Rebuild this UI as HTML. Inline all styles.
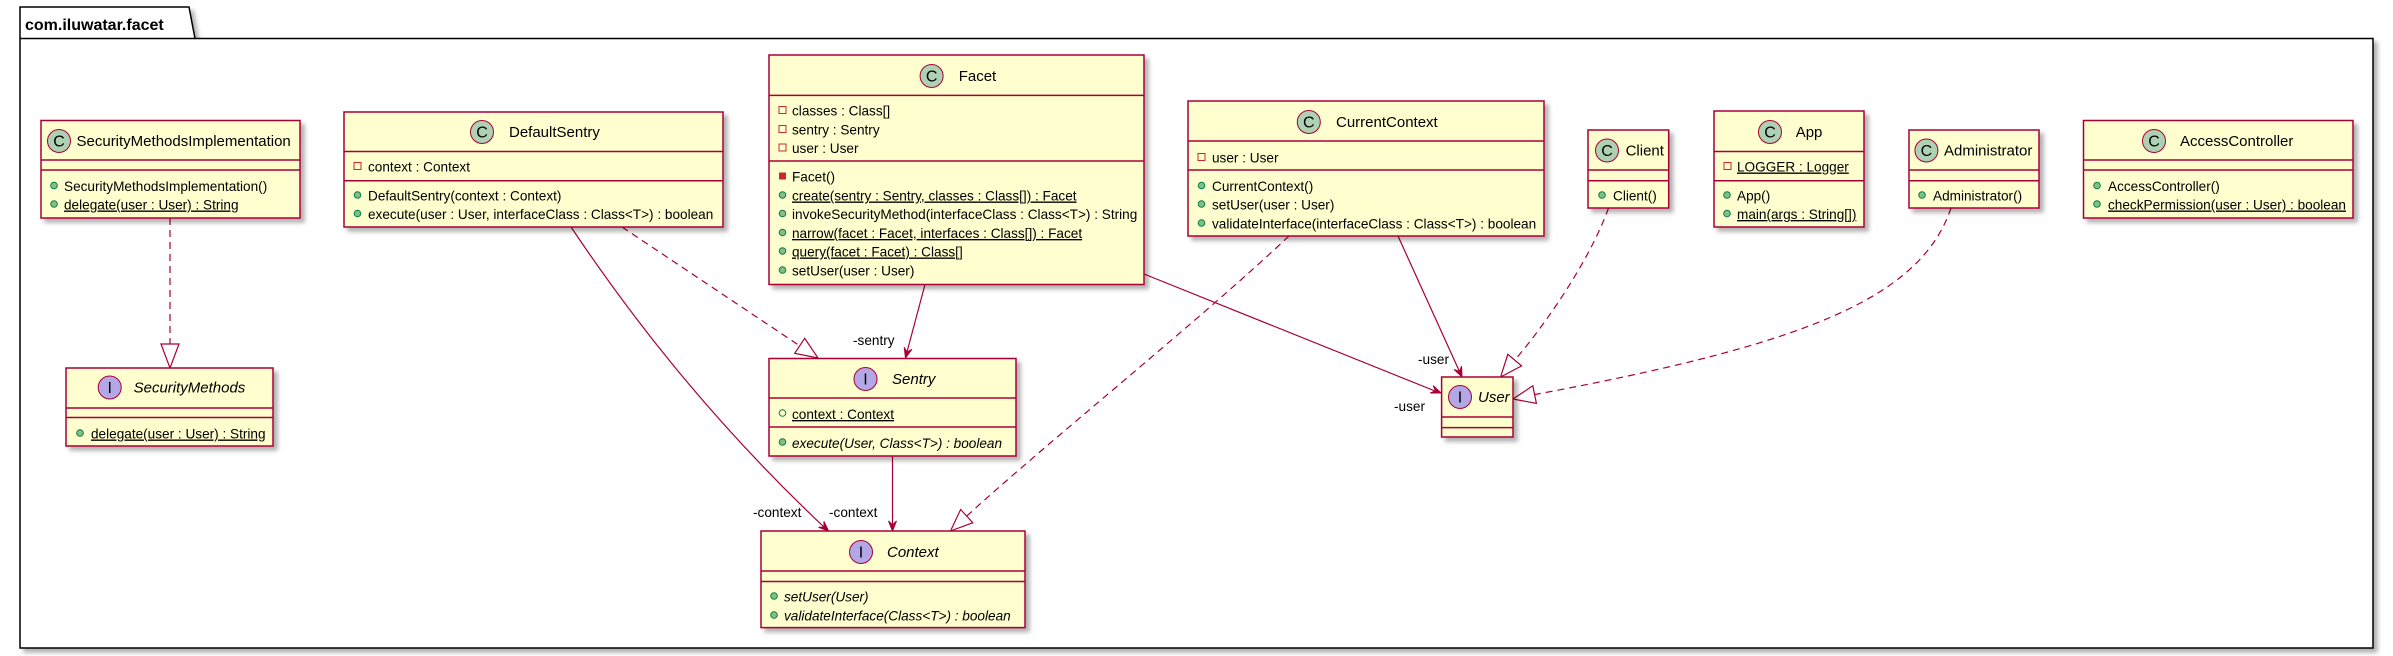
<!DOCTYPE html>
<html><head><meta charset="utf-8"><style>
html,body{margin:0;padding:0;background:#fff;}
svg{display:block;}
text{font-family:"Liberation Sans",sans-serif;font-size:13.6px;fill:#000;}
.n{font-size:15px;}
.i{font-style:italic;}
.u{text-decoration:underline;}
.box{fill:#FEFECE;stroke:#A80036;stroke-width:1.5;filter:url(#sh);}
.ln{stroke:#A80036;stroke-width:1.5;}
.c{fill:none;stroke:#A80036;stroke-width:1.2;}
.d{stroke-dasharray:7,5;}
.pub{fill:#84BE84;stroke:#038048;stroke-width:1;}
.pri{fill:none;stroke:#C82930;stroke-width:1;}
.tri{fill:#fff;stroke:#A80036;stroke-width:1.2;}
.arr{fill:#A80036;stroke:#A80036;stroke-width:1;}
.cc{fill:#ADD1B2;stroke:#A80036;stroke-width:1;}
.ic{fill:#B4A7E5;stroke:#A80036;stroke-width:1;}
.g{font-size:16px;}
</style></head><body>
<svg width="2393" height="656" viewBox="0 0 2393 656" xmlns="http://www.w3.org/2000/svg">
<defs><filter id="sh" x="-10%" y="-10%" width="130%" height="130%"><feDropShadow dx="4" dy="4" stdDeviation="2" flood-color="#000" flood-opacity="0.3"/></filter></defs>
<path d="M20,38.5 L20,7 L189,7 L195,38.5 L2373,38.5 L2373,648 L20,648 Z" fill="#fff" stroke="#000" stroke-width="1.5" filter="url(#sh)"/>
<line x1="20" y1="38.5" x2="195" y2="38.5" stroke="#000" stroke-width="1.5"/>
<text x="25" y="30" style="font-weight:bold;font-size:16px">com.iluwatar.facet</text>

<line class="c d" x1="170" y1="218" x2="170" y2="344"/>
<polygon class="tri" points="170,368 161,344 179,344"/>
<line class="c d" x1="622" y1="227" x2="800" y2="346"/>
<polygon class="tri" points="818,358 794.7,353.3 804.7,338.3"/>
<path class="c" d="M571 227 C620 300, 700 410, 824 527"/>
<polygon class="arr" points="828.6,531 818.5,527.3 824.1,527 823.9,521.3"/>
<line class="c" x1="925" y1="284.5" x2="907" y2="352"/>
<polygon class="arr" points="905.5,358 911.9,349.3 907,352.2 904.2,347.3"/>
<line class="c" x1="1144" y1="274" x2="1435" y2="391"/>
<polygon class="arr" points="1441,393 1430.2,393 1435.4,390.8 1433.2,385.6"/>
<line class="c" x1="1398" y1="236" x2="1459.5" y2="371.5"/>
<polygon class="arr" points="1462,377 1454.2,369.5 1459.5,371.5 1461.5,366.2"/>
<path class="c d" d="M1289 236 C1200 320, 1050 440, 966.7 516.1"/>
<polygon class="tri" points="950.5,531 972.8,522.7 960.6,509.5"/>
<line class="c" x1="892.5" y1="456" x2="892.5" y2="525"/>
<polygon class="arr" points="892.5,531 888.5,521 892.5,525 896.5,521"/>
<path class="c d" d="M1608.5 208 C1590 260, 1545 325, 1514.7 360.1"/>
<polygon class="tri" points="1500.6,377 1521.6,365.9 1507.8,354.3"/>
<path class="c d" d="M1951 208 C1920 300, 1800 345, 1534.6 394.6"/>
<polygon class="tri" points="1513,399 1536.4,403.4 1532.8,385.8"/>
<text x="853" y="345">-sentry</text>
<text x="1418" y="364">-user</text>
<text x="1394" y="411">-user</text>
<text x="753" y="517">-context</text>
<text x="829" y="517">-context</text>

<rect class="box" x="41" y="120.5" width="259" height="97.5"/>
<line class="ln" x1="41" y1="160" x2="300" y2="160"/><line class="ln" x1="41" y1="170" x2="300" y2="170"/>
<ellipse class="cc" cx="59" cy="141" rx="11.5" ry="11.5"/><text x="59" y="146.5" text-anchor="middle" class="g">C</text>
<text class="n" x="76.5" y="146">SecurityMethodsImplementation</text>
<circle class="pub" cx="54" cy="185.5" r="3.3"/><text x="64" y="191">SecurityMethodsImplementation()</text>
<circle class="pub" cx="54" cy="204" r="3.3"/><text class="u" x="64" y="209.5">delegate(user : User) : String</text>

<rect class="box" x="344" y="112" width="379" height="115"/>
<line class="ln" x1="344" y1="151.5" x2="723" y2="151.5"/><line class="ln" x1="344" y1="180.7" x2="723" y2="180.7"/>
<ellipse class="cc" cx="482" cy="132" rx="11.5" ry="11.5"/><text x="482" y="137.5" text-anchor="middle" class="g">C</text>
<text class="n" x="509" y="137">DefaultSentry</text>
<rect class="pri" x="354" y="162.5" width="7" height="7"/><text x="368" y="171.5">context : Context</text>
<circle class="pub" cx="357.5" cy="195" r="3.3"/><text x="368" y="200.5">DefaultSentry(context : Context)</text>
<circle class="pub" cx="357.5" cy="213.5" r="3.3"/><text x="368" y="219">execute(user : User, interfaceClass : Class&lt;T&gt;) : boolean</text>

<rect class="box" x="769" y="55" width="375" height="229.5"/>
<line class="ln" x1="769" y1="95.4" x2="1144" y2="95.4"/><line class="ln" x1="769" y1="161" x2="1144" y2="161"/>
<ellipse class="cc" cx="931.6" cy="76" rx="11.5" ry="11.5"/><text x="931.6" y="81.5" text-anchor="middle" class="g">C</text>
<text class="n" x="958.7" y="81">Facet</text>
<rect class="pri" x="779" y="106.5" width="7" height="7"/><text x="792" y="115.5">classes : Class[]</text>
<rect class="pri" x="779" y="125.5" width="7" height="7"/><text x="792" y="134.5">sentry : Sentry</text>
<rect class="pri" x="779" y="144" width="7" height="7"/><text x="792" y="153">user : User</text>
<rect x="779" y="172.5" width="7" height="7" fill="#C82930"/><text x="792" y="181.5">Facet()</text>
<circle class="pub" cx="782.5" cy="195" r="3.3"/><text class="u" x="792" y="200.5">create(sentry : Sentry, classes : Class[]) : Facet</text>
<circle class="pub" cx="782.5" cy="213.5" r="3.3"/><text x="792" y="219">invokeSecurityMethod(interfaceClass : Class&lt;T&gt;) : String</text>
<circle class="pub" cx="782.5" cy="232.5" r="3.3"/><text class="u" x="792" y="238">narrow(facet : Facet, interfaces : Class[]) : Facet</text>
<circle class="pub" cx="782.5" cy="251" r="3.3"/><text class="u" x="792" y="256.5">query(facet : Facet) : Class[]</text>
<circle class="pub" cx="782.5" cy="270" r="3.3"/><text x="792" y="275.5">setUser(user : User)</text>

<rect class="box" x="1188" y="101" width="356" height="135"/>
<line class="ln" x1="1188" y1="141" x2="1544" y2="141"/><line class="ln" x1="1188" y1="170" x2="1544" y2="170"/>
<ellipse class="cc" cx="1308.8" cy="122" rx="11.5" ry="11.5"/><text x="1308.8" y="127.5" text-anchor="middle" class="g">C</text>
<text class="n" x="1336" y="127">CurrentContext</text>
<rect class="pri" x="1198" y="153.5" width="7" height="7"/><text x="1212" y="162.5">user : User</text>
<circle class="pub" cx="1201.5" cy="185.5" r="3.3"/><text x="1212" y="191">CurrentContext()</text>
<circle class="pub" cx="1201.5" cy="204" r="3.3"/><text x="1212" y="209.5">setUser(user : User)</text>
<circle class="pub" cx="1201.5" cy="223" r="3.3"/><text x="1212" y="228.5">validateInterface(interfaceClass : Class&lt;T&gt;) : boolean</text>

<rect class="box" x="1588" y="130" width="80.7" height="78"/>
<line class="ln" x1="1588" y1="170" x2="1668.7" y2="170"/><line class="ln" x1="1588" y1="180.7" x2="1668.7" y2="180.7"/>
<ellipse class="cc" cx="1607" cy="150.5" rx="11.5" ry="11.5"/><text x="1607" y="156" text-anchor="middle" class="g">C</text>
<text class="n" x="1625.6" y="155.5">Client</text>
<circle class="pub" cx="1602" cy="195" r="3.3"/><text x="1613" y="200.5">Client()</text>

<rect class="box" x="1714" y="111" width="150" height="116"/>
<line class="ln" x1="1714" y1="151.5" x2="1864" y2="151.5"/><line class="ln" x1="1714" y1="180.7" x2="1864" y2="180.7"/>
<ellipse class="cc" cx="1770" cy="132" rx="11.5" ry="11.5"/><text x="1770" y="137.5" text-anchor="middle" class="g">C</text>
<text class="n" x="1795.7" y="137">App</text>
<rect class="pri" x="1724" y="162.5" width="7" height="7"/><text class="u" x="1737" y="171.5">LOGGER : Logger</text>
<circle class="pub" cx="1727" cy="195" r="3.3"/><text x="1737" y="200.5">App()</text>
<circle class="pub" cx="1727" cy="213.5" r="3.3"/><text class="u" x="1737" y="219">main(args : String[])</text>

<rect class="box" x="1909" y="130" width="130" height="78"/>
<line class="ln" x1="1909" y1="170" x2="2039" y2="170"/><line class="ln" x1="1909" y1="180.7" x2="2039" y2="180.7"/>
<ellipse class="cc" cx="1926.4" cy="150.5" rx="11.5" ry="11.5"/><text x="1926.4" y="156" text-anchor="middle" class="g">C</text>
<text class="n" x="1944" y="155.5">Administrator</text>
<circle class="pub" cx="1922" cy="195" r="3.3"/><text x="1933" y="200.5">Administrator()</text>

<rect class="box" x="2083.5" y="120.5" width="269.5" height="97.5"/>
<line class="ln" x1="2083.5" y1="160" x2="2353" y2="160"/><line class="ln" x1="2083.5" y1="170" x2="2353" y2="170"/>
<ellipse class="cc" cx="2154" cy="141" rx="11.5" ry="11.5"/><text x="2154" y="146.5" text-anchor="middle" class="g">C</text>
<text class="n" x="2180" y="146">AccessController</text>
<circle class="pub" cx="2097" cy="185.5" r="3.3"/><text x="2108" y="191">AccessController()</text>
<circle class="pub" cx="2097" cy="204" r="3.3"/><text class="u" x="2108" y="209.5">checkPermission(user : User) : boolean</text>

<rect class="box" x="66" y="368" width="207" height="78"/>
<line class="ln" x1="66" y1="408" x2="273" y2="408"/><line class="ln" x1="66" y1="417.5" x2="273" y2="417.5"/>
<ellipse class="ic" cx="109.7" cy="387.5" rx="11.5" ry="11.5"/><text x="109.7" y="393" text-anchor="middle" class="g">I</text>
<text class="n i" x="133.6" y="392.5">SecurityMethods</text>
<circle class="pub" cx="80" cy="433" r="3.3"/><text class="u" x="91" y="438.5">delegate(user : User) : String</text>

<rect class="box" x="769" y="358.5" width="247" height="97.5"/>
<line class="ln" x1="769" y1="398" x2="1016" y2="398"/><line class="ln" x1="769" y1="427" x2="1016" y2="427"/>
<ellipse class="ic" cx="865.5" cy="379" rx="11.5" ry="11.5"/><text x="865.5" y="384.5" text-anchor="middle" class="g">I</text>
<text class="n i" x="892" y="384">Sentry</text>
<circle cx="782.5" cy="413" r="3.3" fill="none" stroke="#038048"/><text class="u" x="792" y="419">context : Context</text>
<circle class="pub" cx="782.5" cy="442" r="3.3"/><text class="i" x="792" y="448">execute(User, Class&lt;T&gt;) : boolean</text>

<rect class="box" x="761" y="531" width="264" height="96.6"/>
<line class="ln" x1="761" y1="571" x2="1025" y2="571"/><line class="ln" x1="761" y1="581.5" x2="1025" y2="581.5"/>
<ellipse class="ic" cx="861" cy="552" rx="11.5" ry="11.5"/><text x="861" y="557.5" text-anchor="middle" class="g">I</text>
<text class="n i" x="887" y="557">Context</text>
<circle class="pub" cx="774" cy="596" r="3.3"/><text class="i" x="784" y="601.5">setUser(User)</text>
<circle class="pub" cx="774" cy="615" r="3.3"/><text class="i" x="784" y="620.5">validateInterface(Class&lt;T&gt;) : boolean</text>

<rect class="box" x="1441.6" y="377" width="71.4" height="60"/>
<line class="ln" x1="1441.6" y1="417" x2="1513" y2="417"/><line class="ln" x1="1441.6" y1="427.6" x2="1513" y2="427.6"/>
<ellipse class="ic" cx="1460" cy="397" rx="11.5" ry="11.5"/><text x="1460" y="402.5" text-anchor="middle" class="g">I</text>
<text class="n i" x="1478" y="402">User</text>
</svg>
</body></html>
